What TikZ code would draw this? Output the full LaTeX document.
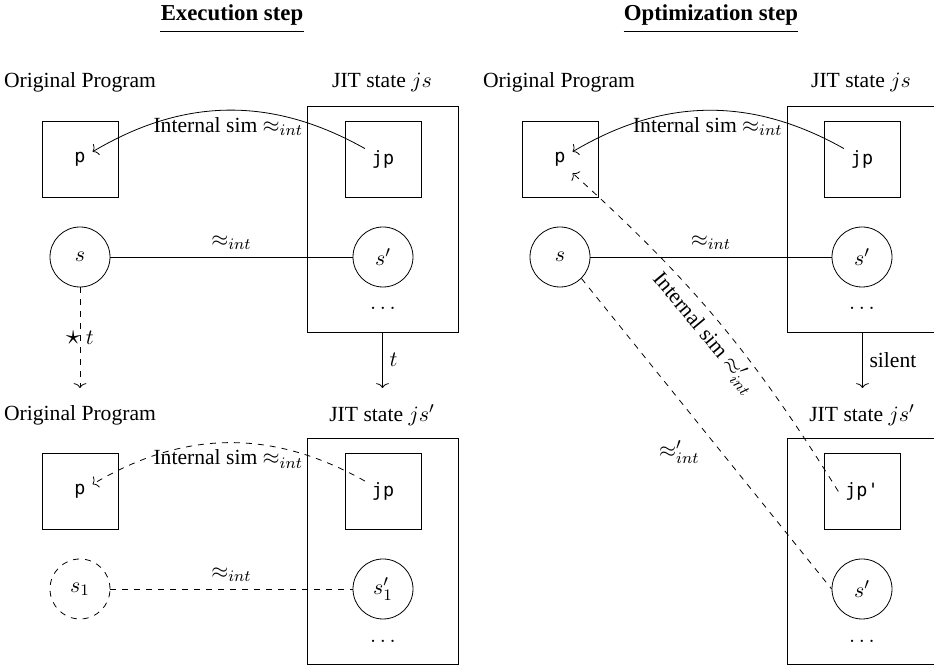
\documentclass[tikz,border=0pt]{standalone}
\usepackage{fontspec}
\usepackage{graphicx}
\setmainfont{Liberation Serif}
\setmonofont{DejaVu Sans Mono}[Scale=0.85]
\usetikzlibrary{arrows.meta}
\begin{document}
\begin{tikzpicture}[x=0.5pt,y=0.5pt,
  font=\fontsize{10.8pt}{13pt}\selectfont,
  >={Computer Modern Rightarrow[length=2.4pt,width=6.4pt]},
  bigbox/.style={draw, minimum width=75.5pt, minimum height=113pt, inner sep=0pt},
  smallbox/.style={draw, minimum size=38pt, inner sep=0pt},
  state/.style={draw, circle, minimum size=30pt, inner sep=0pt},
  code/.style={font=\fontsize{10.8pt}{13pt}\ttfamily},
  title/.style={font=\fontsize{11.4pt}{13pt}\selectfont\bfseries, inner xsep=0pt, inner ysep=3pt}
]
\useasboundingbox (0,0) rectangle (934,-668);

% ---------- Execution step ----------
\node[title] (t1) at (232,-15) {Execution step};
\draw (t1.south west) -- (t1.south east);
\node (op1) at (80,-82) {Original Program};
\node (jit1) at (382,-82) {JIT state $js$};
\node[bigbox] (big1) at (382.5,-219) {};
\node[smallbox] (pb1) at (80,-159) {};
\node[code] (p1) at (80,-159) {p};
\node[smallbox] (jb1) at (383,-159) {};
\node[code] (jp1) at (383,-159) {jp};
\node[state] (s1) at (80,-257) {$s$};
\node[state] (sp1) at (383,-257) {$s'$};
\node (d1) at (383,-308) {$\dots$};
\coordinate (a1) at (80,-388);
\coordinate (b1) at (382.5,-388);
\draw[->] (jp1) to[bend right=30] node[below] {Internal sim $\approx_{int}$} (p1);
\draw (s1) -- node[above] {$\approx_{int}$} (sp1);
\draw[dashed,->] (s1) -- node {\scalebox{1.3}{$\star$} $t$} (a1);
\draw[->] (big1) -- node[right] {$t$} (b1);

\node (op2) at (80,-415) {Original Program};
\node (jit2) at (382,-415) {JIT state $js'$};
\node[bigbox] (big2) at (382.5,-551) {};
\node[smallbox] (pb2) at (80,-491.5) {};
\node[code] (p2) at (80,-491.5) {p};
\node[smallbox] (jb2) at (383,-491.5) {};
\node[code] (jp2) at (383,-491.5) {jp};
\node[state,dashed] (s2) at (80,-589) {$s_1$};
\node[state] (sp2) at (383,-589) {$s'_1$};
\node (d2) at (383,-641) {$\dots$};
\draw[dashed,->] (jp2) to[bend right=30] node[below] {Internal sim $\approx_{int}$} (p2);
\draw[dashed] (s2) -- node[above] {$\approx_{int}$} (sp2);

% ---------- Optimization step ----------
\node[title] (t2) at (711,-15) {Optimization step};
\draw (t2.south west) -- (t2.south east);
\node (op3) at (559,-82) {Original Program};
\node (jit3) at (861,-82) {JIT state $js$};
\node[bigbox] (big3) at (862.5,-219) {};
\node[smallbox] (pb3) at (560,-159) {};
\node[code] (p3) at (560,-159) {p};
\node[smallbox] (jb3) at (862,-159) {};
\node[code] (jp3) at (862,-159) {jp};
\node[state] (s3) at (560,-257) {$s$};
\node[state] (sp3) at (862,-257) {$s'$};
\node (d3) at (862,-308) {$\dots$};
\coordinate (b3) at (862.5,-388);
\draw[->] (jp3) to[bend right=30] node[below] {Internal sim $\approx_{int}$} (p3);
\draw (s3) -- node[above] {$\approx_{int}$} (sp3);
\draw[->] (big3) -- node[right] {silent} (b3);

\node (jit4) at (862,-415) {JIT state $js'$};
\node[bigbox] (big4) at (862.5,-551) {};
\node[smallbox] (jb4) at (862,-491.5) {};
\node[code] (jp4) at (862,-491.5) {jp'};
\node[state] (sp4) at (862,-589) {$s'$};
\node (d4) at (862,-641) {$\dots$};
\draw[dashed,->] (jp4.west) to[bend right=8] node[sloped,below] {Internal sim $\approx'_{int}$} (p3.south east);
\draw[dashed] (s3.south east) -- node[below left] {$\approx'_{int}$} (sp4.west);
\end{tikzpicture}
\end{document}
